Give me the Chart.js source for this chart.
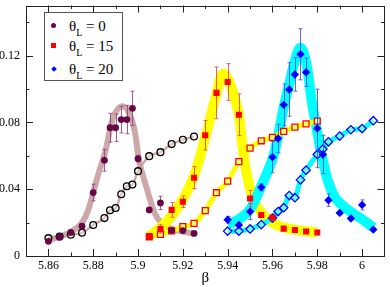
<!DOCTYPE html>
<html>
<head>
<meta charset="utf-8">
<script src="https://cdn.jsdelivr.net/npm/chart.js@4.4.1/dist/chart.umd.min.js"></script>
<style>
  body { margin: 0; background: #fff; }
  #wrap { position: relative; width: 390px; height: 287px; }
  #legend {
    position: absolute; left: 44px; top: 12px; width: 79px; height: 69px;
    box-sizing: border-box; border: 1px solid #555; background: #fff;
    font-family: 'Liberation Serif', serif; font-size: 15px; color: #000;
  }
  .row { position: absolute; left: 0; height: 20px; line-height: 20px; white-space: nowrap; }
  .row .txt { position: absolute; left: 24px; top: 0; }
  .row sub { font-size: 10px; vertical-align: -5px; line-height: 0; }
  .sym { position: absolute; left: 6px; top: 7px; width: 5px; height: 5px; }
  .sym.circ { background: rgb(103,7,72); border-radius: 50%; }
  .sym.sq { background: #ff0000; }
  .sym.dia { background: #0000ff; transform: rotate(45deg); width: 4px; height: 4px; left: 6.5px; top: 7.5px; }
</style>
</head>
<body>
<div id="wrap">
  <canvas id="chart"></canvas>
  <div id="legend">
    <div class="row" style="top:3px"><span class="sym circ"></span><span class="txt">θ<sub>L</sub> = 0</span></div>
    <div class="row" style="top:23px"><span class="sym sq"></span><span class="txt">θ<sub>L</sub> = 15</span></div>
    <div class="row" style="top:46px"><span class="sym dia"></span><span class="txt">θ<sub>L</sub> = 20</span></div>
  </div>
</div>
<script>
// ── Axis ticks ──
const xMajorTicks = [5.86, 5.88, 5.90, 5.92, 5.94, 5.96, 5.98, 6.00];
const xTickLabels = ["5.86", "5.88", "5.9", "5.92", "5.94", "5.96", "5.98", "6"];
const xMinorTicks = [5.87, 5.89, 5.91, 5.93, 5.95, 5.97, 5.99];
const yMajorTicks = [0, 0.04, 0.08, 0.12];
const yTickLabels = ["0", "0.04", "0.08", "0.12"];
const yMinorTicks = [0.02, 0.06, 0.10, 0.14];

// ── theta_L = 0 ──
const beta0 = [5.86, 5.865, 5.87, 5.875, 5.88, 5.885, 5.8875, 5.89, 5.8925, 5.895, 5.8975, 5.90, 5.905, 5.91, 5.915, 5.92, 5.925];
const chi0 = [0.0088, 0.0113, 0.0141, 0.0178, 0.038, 0.0573, 0.0768, 0.0768, 0.0817, 0.0817, 0.0884, 0.0583, 0.0276, 0.0318, 0.0152, 0.0152, 0.0135];
const chi0Err = [0.0005, 0.0005, 0.0008, 0.001, 0.005, 0.0065, 0.0086, 0.0082, 0.008, 0.0085, 0.0103, 0.002, 0.001, 0.004, 0.001, 0.001, 0.0008];
const open0 = [0.0107, 0.0117, 0.0127, 0.0139, 0.0186, 0.0227, 0.0274, 0.0287, 0.037, 0.0418, 0.0428, 0.0508, 0.0598, 0.0622, 0.067, 0.0696, 0.0716];
const band0Beta = [5.86, 5.865, 5.87, 5.8745, 5.8775, 5.88, 5.8825, 5.8853, 5.8879, 5.8898, 5.893, 5.896, 5.8985, 5.9003, 5.902, 5.904, 5.906, 5.9077, 5.91, 5.9136, 5.917, 5.921, 5.925];
const band0 = [0.0095, 0.0115, 0.0145, 0.019, 0.0265, 0.038, 0.05, 0.062, 0.078, 0.0856, 0.0896, 0.0856, 0.075, 0.058, 0.049, 0.04, 0.031, 0.025, 0.0205, 0.0172, 0.0155, 0.0143, 0.0135];

// ── theta_L = 15 ──
const beta15 = [5.905, 5.91, 5.915, 5.92, 5.925, 5.93, 5.935, 5.94, 5.945, 5.95, 5.955, 5.96, 5.965, 5.97, 5.975, 5.98];
const chi15 = [0.0119, 0.0162, 0.0276, 0.0325, 0.0469, 0.0723, 0.0977, 0.1042, 0.0846, 0.0344, 0.0246, 0.023, 0.0164, 0.0156, 0.0147, 0.0141];
const chi15Err = [0.0008, 0.0025, 0.0044, 0.0035, 0.0066, 0.0088, 0.0155, 0.011, 0.0125, 0.0049, 0.001, 0.001, 0.0006, 0.0005, 0.0005, 0.0005];
const open15 = [0.0115, 0.0129, 0.015, 0.0176, 0.0195, 0.0272, 0.0379, 0.0448, 0.0565, 0.0646, 0.069, 0.071, 0.0746, 0.0772, 0.0791, 0.0808];
const band15Beta = [5.905, 5.91, 5.915, 5.92, 5.925, 5.93, 5.935, 5.9378, 5.9405, 5.943, 5.945, 5.9466, 5.9489, 5.9518, 5.955, 5.9577, 5.962, 5.968, 5.974, 5.98];
const band15 = [0.012, 0.017, 0.024, 0.034, 0.048, 0.071, 0.097, 0.109, 0.105, 0.095, 0.0846, 0.066, 0.0465, 0.0328, 0.026, 0.022, 0.0185, 0.0162, 0.015, 0.014];

// ── theta_L = 20 ──
const beta20 = [5.94, 5.945, 5.95, 5.955, 5.96, 5.9625, 5.965, 5.9675, 5.97, 5.9725, 5.975, 5.98, 5.9825, 5.985, 5.99, 5.995, 6.00, 6.005];
const chi20 = [0.0217, 0.0186, 0.0266, 0.0411, 0.0592, 0.0704, 0.0905, 0.0997, 0.1087, 0.1208, 0.110, 0.0764, 0.0608, 0.0334, 0.0258, 0.0225, 0.0306, 0.0158];
const chi20Err = [0.002, 0.001, 0.0047, 0.002, 0.0093, 0.0085, 0.0125, 0.016, 0.01, 0.0153, 0.0085, 0.0235, 0.0115, 0.0037, 0.001, 0.001, 0.003, 0.001];
const open20 = [0.0149, 0.0149, 0.0162, 0.0188, 0.0227, 0.0266, 0.0289, 0.0362, 0.0349, 0.0456, 0.0514, 0.0608, 0.064, 0.0684, 0.0718, 0.0756, 0.0763, 0.081];
const band20Beta = [5.94, 5.945, 5.95, 5.955, 5.96, 5.9625, 5.965, 5.9675, 5.97, 5.9725, 5.975, 5.9775, 5.98, 5.9822, 5.985, 5.9885, 5.9944, 6.00, 6.005];
const band20 = [0.019, 0.022, 0.028, 0.042, 0.058, 0.072, 0.089, 0.103, 0.117, 0.1247, 0.116, 0.093, 0.074, 0.059, 0.044, 0.034, 0.027, 0.022, 0.017];

const MAROON = "rgb(103,7,72)";
const ROSY = "rgba(200,158,158,0.9)";

function pts(xs, ys) {
    return xs.map(function (x, i) { return { x: x, y: ys[i] }; });
}

// error bars are drawn right before their own dataset, so they sit over the bands
const errorBars = {
    id: "errorBars",
    beforeDatasetDraw(chart, args) {
        const ds = chart.data.datasets[args.index];
        if (!ds.errors) return;
        const ctx = chart.ctx, xs = chart.scales.x, ys = chart.scales.y, a = chart.chartArea;
        ctx.save();
        ctx.beginPath();
        ctx.rect(a.left, a.top, a.right - a.left, a.bottom - a.top);
        ctx.clip();
        ctx.strokeStyle = ds.errorColor;
        ctx.lineWidth = 1;
        ds.data.forEach(function (p, i) {
            const px = Math.round(xs.getPixelForValue(p.x)) + 0.5;
            const t = ys.getPixelForValue(p.y + ds.errors[i]);
            const b = ys.getPixelForValue(p.y - ds.errors[i]);
            ctx.beginPath();
            ctx.moveTo(px, t); ctx.lineTo(px, b);
            ctx.moveTo(px - 2, t); ctx.lineTo(px + 2, t);
            ctx.moveTo(px - 2, b); ctx.lineTo(px + 2, b);
            ctx.stroke();
        });
        ctx.restore();
    }
};

// frame with inward ticks on all four sides
const frame = {
    id: "frame",
    afterDatasetsDraw(chart) {
        const ctx = chart.ctx, xs = chart.scales.x, ys = chart.scales.y, a = chart.chartArea;
        ctx.save();
        ctx.strokeStyle = "#222";
        ctx.lineWidth = 1;
        ctx.beginPath();
        function xt(v, len) {
            const px = Math.round(xs.getPixelForValue(v)) + 0.5;
            ctx.moveTo(px, a.bottom); ctx.lineTo(px, a.bottom - len);
            ctx.moveTo(px, a.top); ctx.lineTo(px, a.top + len);
        }
        function yt(v, len) {
            const py = Math.round(ys.getPixelForValue(v)) + 0.5;
            ctx.moveTo(a.left, py); ctx.lineTo(a.left + len, py);
            ctx.moveTo(a.right, py); ctx.lineTo(a.right - len, py);
        }
        xMajorTicks.forEach(function (v) { xt(v, 7); });
        xMinorTicks.forEach(function (v) { xt(v, 3.5); });
        yMajorTicks.forEach(function (v) { yt(v, 7); });
        yMinorTicks.forEach(function (v) { yt(v, 3.5); });
        ctx.stroke();
        ctx.strokeRect(Math.round(a.left) + 0.5, Math.round(a.top) + 0.5,
            Math.round(a.right - a.left) - 1, Math.round(a.bottom - a.top) - 1);
        ctx.restore();
    }
};

Chart.defaults.font.family = "'Liberation Serif', serif";
Chart.defaults.font.size = 12;
Chart.defaults.color = "#000";

new Chart(document.getElementById("chart"), {
    type: "scatter",
    data: {
        datasets: [
            // bands
            { data: pts(band0Beta, band0), showLine: true, borderColor: ROSY, borderWidth: 6, pointRadius: 0, tension: 0.4, order: 10 },
            { data: pts(band15Beta, band15), showLine: true, borderColor: "#ffff00", borderWidth: 10, pointRadius: 0, tension: 0.4, order: 9 },
            { data: pts(band20Beta, band20), showLine: true, borderColor: "#00ffff", borderWidth: 10, pointRadius: 0, tension: 0.4, order: 8 },
            // open symbols with their lines
            { data: pts(beta0, open0), showLine: true, borderColor: ROSY, borderWidth: 2.5, pointRadius: 0, tension: 0.3, order: 7 },
            { data: pts(beta15, open15), showLine: true, borderColor: "#ffff00", borderWidth: 5, pointRadius: 0, tension: 0.3, order: 7 },
            { data: pts(beta20, open20), showLine: true, borderColor: "#00ffff", borderWidth: 5, pointRadius: 0, tension: 0.3, order: 7 },
            { data: pts(beta0, open0), pointStyle: "circle", pointRadius: 3.4, pointBorderWidth: 1.3, pointBorderColor: "#000", pointBackgroundColor: "rgba(255,255,255,0.35)", order: 4 },
            { data: pts(beta15, open15), pointStyle: "rect", pointRadius: 4.2, pointBorderWidth: 1.3, pointBorderColor: "#ff0000", pointBackgroundColor: "rgba(255,255,200,0.5)", order: 4 },
            { data: pts(beta20, open20), pointStyle: "rectRot", pointRadius: 4.2, pointBorderWidth: 1.3, pointBorderColor: "#0000ff", pointBackgroundColor: "rgba(200,255,255,0.5)", order: 4 },
            // filled symbols with error bars
            { data: pts(beta0, chi0), errors: chi0Err, errorColor: "rgba(150,60,120,0.85)", pointStyle: "circle", pointRadius: 3.4, pointBorderWidth: 0, pointBackgroundColor: MAROON, order: 1 },
            { data: pts(beta15, chi15), errors: chi15Err, errorColor: "rgba(235,80,80,0.9)", pointStyle: "rect", pointRadius: 4.3, pointBorderWidth: 0, pointBackgroundColor: "#ff0000", order: 1 },
            { data: pts(beta20, chi20), errors: chi20Err, errorColor: "rgba(70,70,255,0.85)", pointStyle: "rectRot", pointRadius: 4.2, pointBorderWidth: 0, pointBackgroundColor: "#0000ff", order: 1 }
        ]
    },
    options: {
        responsive: true,
        maintainAspectRatio: false,
        animation: false,
        layout: { padding: { top: 1, right: 1, left: 0, bottom: 0 } },
        plugins: { legend: { display: false }, tooltip: { enabled: false } },
        scales: {
            x: {
                type: "linear", min: 5.85, max: 6.01,
                afterBuildTicks: function (s) { s.ticks = xMajorTicks.map(function (v) { return { value: v }; }); },
                afterFit: function (s) { s.height = 31; s.paddingLeft = 0; s.paddingRight = 0; },
                ticks: { padding: 3, maxRotation: 0, autoSkip: false, callback: function (v, i) { return xTickLabels[i]; } },
                grid: { display: false, drawTicks: false },
                border: { display: false },
                title: { display: true, text: "β", font: { size: 15 }, padding: { top: 0, bottom: 0 } }
            },
            y: {
                type: "linear", min: 0, max: 0.15,
                afterBuildTicks: function (s) { s.ticks = yMajorTicks.map(function (v) { return { value: v }; }); },
                afterFit: function (s) { s.width = 26; s.paddingTop = 0; s.paddingBottom = 0; },
                ticks: { padding: 6, callback: function (v, i) { return yTickLabels[i]; } },
                grid: { display: false, drawTicks: false },
                border: { display: false }
            }
        }
    },
    plugins: [errorBars, frame]
});
</script>
</body>
</html>
